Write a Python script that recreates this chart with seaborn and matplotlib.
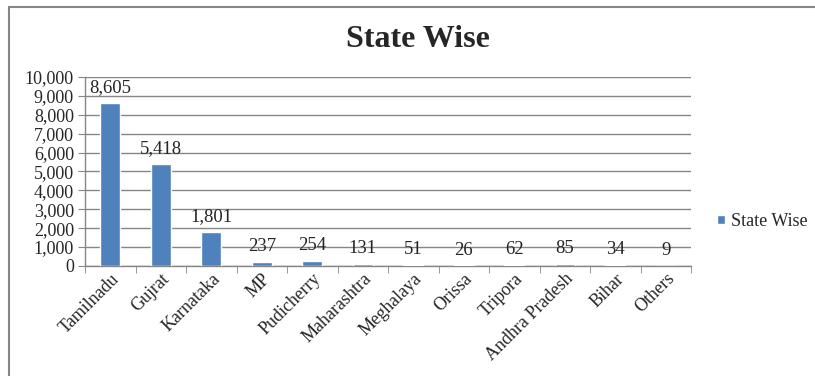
import numpy as np
import pandas as pd
import matplotlib
matplotlib.use("Agg")
import matplotlib.pyplot as plt
import seaborn as sns
from matplotlib.ticker import FuncFormatter, FixedLocator

states = ["Tamilnadu", "Gujrat", "Karnataka", "MP", "Pudicherry", "Maharashtra",
          "Meghalaya", "Orissa", "Tripora", "Andhra Pradesh", "Bihar", "Others"]
counts = [8605, 5418, 1801, 237, 254, 131, 51, 26, 62, 85, 34, 9]

df = pd.DataFrame({"State": states, "Count": counts})

sns.set_style("white")
plt.rcParams["font.family"] = ["Liberation Serif", "DejaVu Serif"]

fig = plt.figure(figsize=(8.15, 3.76), dpi=100)
ax = fig.add_axes([0.1043, 0.2926, 0.7436, 0.5027])

bar_color = "#4f81bd"
sns.barplot(data=df, x="State", y="Count", color=bar_color, width=0.4,
            saturation=1, ax=ax, zorder=3, label="State Wise")

ax.set_ylim(0, 10000)
ax.set_xlim(-0.5, len(states) - 0.5)
ax.set_yticks(np.arange(0, 10001, 1000))
ax.yaxis.set_major_formatter(FuncFormatter(lambda v, p: f"{int(v):,}"))
ax.grid(axis="y", color="#868686", linewidth=1, zorder=0)
ax.set_axisbelow(True)

for s in ["top", "right"]:
    ax.spines[s].set_visible(False)
for s in ["left", "bottom"]:
    ax.spines[s].set_color("#868686")
    ax.spines[s].set_linewidth(1)

ax.tick_params(axis="y", which="major", length=5, color="#868686", direction="out",
               left=True, labelsize=13, pad=3)
ax.tick_params(axis="x", which="major", length=0, labelsize=13, pad=3)
ax.xaxis.set_minor_locator(FixedLocator(np.arange(-0.5, len(states), 1)))
ax.tick_params(axis="x", which="minor", length=5, color="#868686", direction="out", bottom=True)
plt.setp(ax.get_xticklabels(), rotation=45, ha="right", rotation_mode="anchor")

ax.set_xlabel("")
ax.set_ylabel("")

for i, v in enumerate(counts):
    ax.annotate(f"{v:,}", (i, v), xytext=(0, 5), textcoords="offset points",
                ha="center", va="bottom", fontsize=13.5)

fig.text(0.513, 0.894, "State Wise", ha="center", va="center",
         fontsize=23, fontweight="bold")

leg = ax.legend(loc="center left", bbox_to_anchor=(1.0, 0.237), frameon=False,
                fontsize=13, handlelength=0.42, handleheight=0.42,
                handletextpad=0.35, borderaxespad=1.05, borderpad=0.4)

border = plt.Rectangle((0.0105, -0.1), 1.2, 1.082, transform=fig.transFigure,
                       fill=False, edgecolor="#868686", linewidth=1.5)
fig.add_artist(border)

fig.savefig("out.png", dpi=100)
